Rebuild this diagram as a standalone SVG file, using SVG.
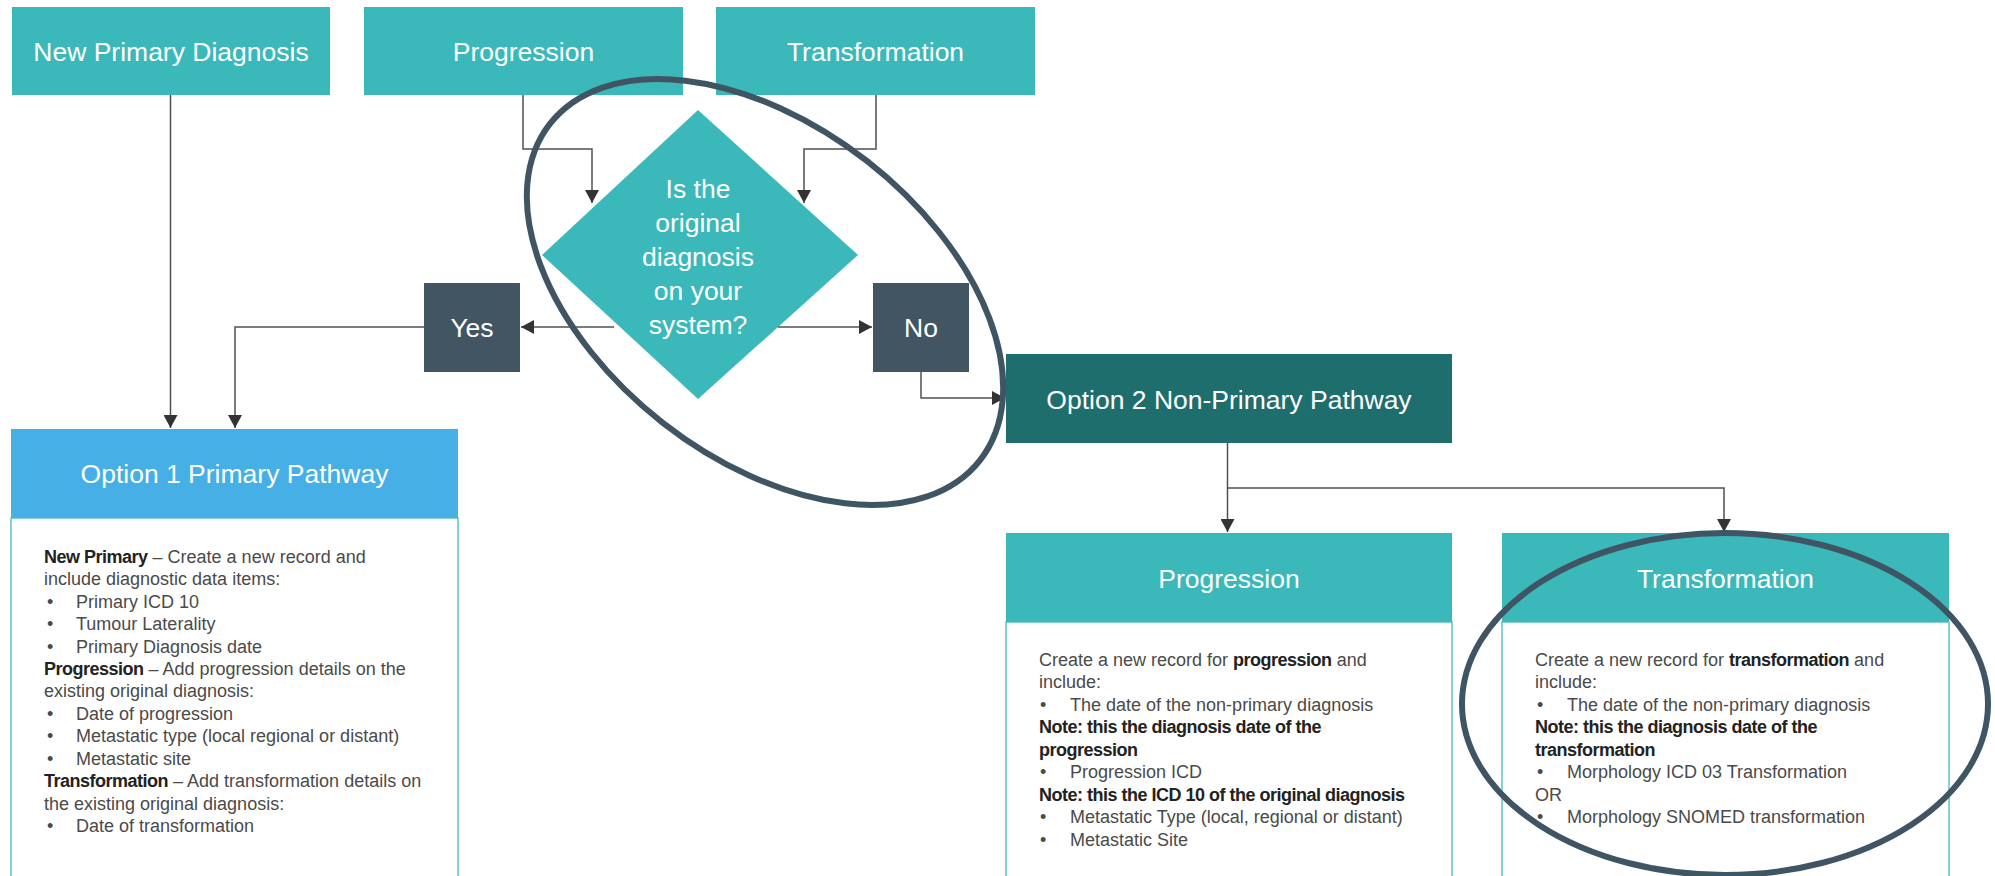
<svg xmlns="http://www.w3.org/2000/svg" width="1995" height="876" viewBox="0 0 1995 876">
  <style>
    .teal { fill: #3bb8ba; }
    .slate { fill: #415563; }
    .dark { fill: #1e6e6e; }
    .blue { fill: #45afe6; }
    .body { fill: #ffffff; stroke: #5cc4c4; stroke-width: 1.5; }
    .hd { font-family: "Liberation Sans", Arial, sans-serif; font-size: 26.5px; fill: #ffffff; text-anchor: middle; }
    .tx { font-family: "Liberation Sans", Arial, sans-serif; font-size: 18px; fill: #4a4a4a; }
    .b { font-weight: bold; fill: #222222; letter-spacing: -0.5px; }
    .conn { fill: none; stroke: #505050; stroke-width: 1.5; }
    .ring { fill: none; stroke: #3f5564; stroke-width: 6; }
  </style>
  <defs>
    <marker id="arrow" markerUnits="userSpaceOnUse" markerWidth="14" markerHeight="14" refX="13" refY="7" orient="auto">
      <path d="M0,0 L13,7 L0,14 Z" fill="#333333"/>
    </marker>
  </defs>

  <rect width="1995" height="876" fill="#ffffff"/>

  <!-- entry points -->
  <g id="new-primary">
    <rect class="teal" x="12" y="7" width="318" height="88"/>
    <text class="hd" x="171" y="61">New Primary Diagnosis</text>
  </g>
  <g id="progression-in">
    <rect class="teal" x="364" y="7" width="319" height="88"/>
    <text class="hd" x="523.5" y="61">Progression</text>
  </g>
  <g id="transformation-in">
    <rect class="teal" x="716" y="7" width="319" height="88"/>
    <text class="hd" x="875.5" y="61">Transformation</text>
  </g>

  <!-- decision -->
  <g id="decision">
    <polygon class="teal" points="698,110 858,255 698,399 542,255"/>
    <text class="hd" x="698" y="198">Is the</text>
    <text class="hd" x="698" y="232">original</text>
    <text class="hd" x="698" y="266">diagnosis</text>
    <text class="hd" x="698" y="300">on your</text>
    <text class="hd" x="698" y="334">system?</text>
  </g>

  <g id="yes">
    <rect class="slate" x="424" y="283" width="96" height="89"/>
    <text class="hd" x="472" y="337">Yes</text>
  </g>
  <g id="no">
    <rect class="slate" x="873" y="283" width="96" height="89"/>
    <text class="hd" x="921" y="337">No</text>
  </g>

  <!-- option 1 -->
  <g id="option1">
    <rect class="body" x="11" y="518" width="447" height="380"/>
    <rect class="blue" x="11" y="429" width="447" height="89"/>
    <text class="hd" x="234.5" y="483">Option 1 Primary Pathway</text>
    <text class="tx" x="44" y="562.7"><tspan class="b">New Primary</tspan> – Create a new record and</text>
    <text class="tx" x="44" y="585.2">include diagnostic data items:</text>
    <text class="tx" y="607.6"><tspan x="47">•</tspan><tspan x="76">Primary ICD 10</tspan></text>
    <text class="tx" y="630.1"><tspan x="47">•</tspan><tspan x="76">Tumour Laterality</tspan></text>
    <text class="tx" y="652.5"><tspan x="47">•</tspan><tspan x="76">Primary Diagnosis date</tspan></text>
    <text class="tx" x="44" y="675"><tspan class="b">Progression</tspan> – Add progression details on the</text>
    <text class="tx" x="44" y="697.4">existing original diagnosis:</text>
    <text class="tx" y="719.9"><tspan x="47">•</tspan><tspan x="76">Date of progression</tspan></text>
    <text class="tx" y="742.3"><tspan x="47">•</tspan><tspan x="76">Metastatic type (local regional or distant)</tspan></text>
    <text class="tx" y="764.8"><tspan x="47">•</tspan><tspan x="76">Metastatic site</tspan></text>
    <text class="tx" x="44" y="787.2"><tspan class="b">Transformation</tspan> – Add transformation details on</text>
    <text class="tx" x="44" y="809.7">the existing original diagnosis:</text>
    <text class="tx" y="832.1"><tspan x="47">•</tspan><tspan x="76">Date of transformation</tspan></text>
  </g>

  <!-- option 2 -->
  <g id="option2">
    <rect class="dark" x="1006" y="354" width="446" height="89"/>
    <text class="hd" x="1229" y="409">Option 2 Non-Primary Pathway</text>
  </g>

  <g id="progression-out">
    <rect class="body" x="1006" y="622" width="446" height="276"/>
    <rect class="teal" x="1006" y="533" width="446" height="89"/>
    <text class="hd" x="1229" y="587.5">Progression</text>
    <text class="tx" x="1039" y="666">Create a new record for <tspan class="b">progression</tspan> and</text>
    <text class="tx" x="1039" y="688.4">include:</text>
    <text class="tx" y="710.9"><tspan x="1040">•</tspan><tspan x="1070">The date of the non-primary diagnosis</tspan></text>
    <text class="tx" x="1039" y="733.3"><tspan class="b">Note: this the diagnosis date of the</tspan></text>
    <text class="tx" x="1039" y="755.8"><tspan class="b">progression</tspan></text>
    <text class="tx" y="778.2"><tspan x="1040">•</tspan><tspan x="1070">Progression ICD</tspan></text>
    <text class="tx" x="1039" y="800.7"><tspan class="b">Note: this the ICD 10 of the original diagnosis</tspan></text>
    <text class="tx" y="823.1"><tspan x="1040">•</tspan><tspan x="1070">Metastatic Type (local, regional or distant)</tspan></text>
    <text class="tx" y="845.6"><tspan x="1040">•</tspan><tspan x="1070">Metastatic Site</tspan></text>
  </g>

  <g id="transformation-out">
    <rect class="body" x="1502" y="622" width="447" height="276"/>
    <rect class="teal" x="1502" y="533" width="447" height="89"/>
    <text class="hd" x="1725.5" y="587.5">Transformation</text>
    <text class="tx" x="1535" y="666">Create a new record for <tspan class="b">transformation</tspan> and</text>
    <text class="tx" x="1535" y="688.4">include:</text>
    <text class="tx" y="710.9"><tspan x="1537">•</tspan><tspan x="1567">The date of the non-primary diagnosis</tspan></text>
    <text class="tx" x="1535" y="733.3"><tspan class="b">Note: this the diagnosis date of the</tspan></text>
    <text class="tx" x="1535" y="755.8"><tspan class="b">transformation</tspan></text>
    <text class="tx" y="778.2"><tspan x="1537">•</tspan><tspan x="1567">Morphology ICD 03 Transformation</tspan></text>
    <text class="tx" x="1535" y="800.7">OR</text>
    <text class="tx" y="823.1"><tspan x="1537">•</tspan><tspan x="1567">Morphology SNOMED transformation</tspan></text>
  </g>

  <!-- connectors -->
  <g id="connectors">
    <path class="conn" marker-end="url(#arrow)" d="M170.5,95 V428"/>
    <path class="conn" marker-end="url(#arrow)" d="M523,95 V149 H592 V203"/>
    <path class="conn" marker-end="url(#arrow)" d="M876,95 V149 H804 V203"/>
    <path class="conn" marker-end="url(#arrow)" d="M614,327 H521"/>
    <path class="conn" marker-end="url(#arrow)" d="M778,327 H872"/>
    <path class="conn" marker-end="url(#arrow)" d="M424,327 H235 V428"/>
    <path class="conn" marker-end="url(#arrow)" d="M921,372 V398 H1005"/>
    <path class="conn" marker-end="url(#arrow)" d="M1227.5,443 V532"/>
    <path class="conn" marker-end="url(#arrow)" d="M1227.5,488 H1724 V532"/>
  </g>

  <!-- highlight rings -->
  <g id="highlights">
    <ellipse class="ring" cx="765" cy="292" rx="273" ry="166" transform="rotate(38 765 292)"/>
    <ellipse class="ring" cx="1725" cy="704" rx="263" ry="171"/>
  </g>
</svg>
